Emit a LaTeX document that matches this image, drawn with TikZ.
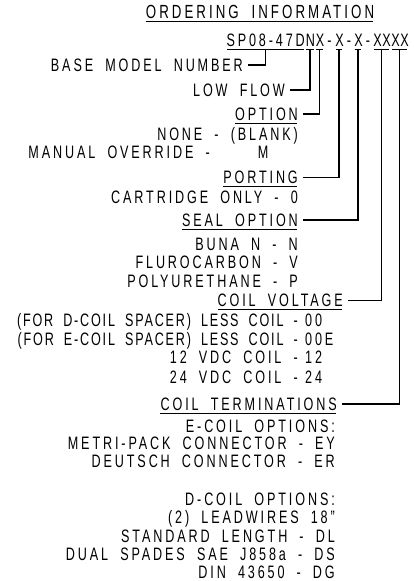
\documentclass[tikz,border=0pt]{standalone}
\usepackage{fontspec}
\setmainfont{Liberation Sans}[FakeStretch=0.7,LetterSpace=16,WordSpace=1.9]
\usetikzlibrary{calc}
\begin{document}
\begin{tikzpicture}[x=1pt,y=-1pt,
  txt/.style={inner sep=0pt,font=\fontsize{18}{20}\selectfont},
  tight/.style={inner sep=0pt,font=\fontsize{18}{20}\selectfont\addfontfeature{LetterSpace=10}},
  lbl/.style={txt,anchor=base east},
  chain/.style={txt,anchor=base west},
  code/.style={txt,anchor=base},
  conn/.style={line width=1.1pt},
  uline/.style={line width=1pt}]
\useasboundingbox (0,0) rectangle (413,581);
% title
\node[txt,anchor=base,font=\fontsize{19}{21}\selectfont] (title) at (260,18) {ORDERING INFORMATION};
\draw[uline] ($(title.base west)+(0,3)$) -- ($(title.base east)+(-1.5,3)$);
% model code
\node[txt,anchor=base east] (cA) at (305,46) {SP08-47D};
\node[code] (cN) at (310.5,46) {N};
\node[code] (cX1) at (320,46) {X};
\node[code] (d1) at (329.5,46) {-};
\node[code] (cX2) at (339.5,46) {X};
\node[code] (d2) at (349,46) {-};
\node[code] (cX3) at (358.5,46) {X};
\node[code] (d3) at (368,46) {-};
\node[code] (cX4a) at (377.5,46) {X};
\node[code] (cX4b) at (386.5,46) {X};
\node[code] (cX5a) at (395.5,46) {X};
\node[code] (cX5b) at (404.5,46) {X};
\foreach \c in {cA,cN,cX1,cX2,cX3}{
  \draw[uline] ($(\c.base west)+(0.5,3.5)$) -- ($(\c.base east)+(-1.5,3.5)$);
}
\draw[uline] ($(cX4a.base west)+(0.5,3.5)$) -- ($(cX4b.base east)+(-1.5,3.5)$);
\draw[uline] ($(cX5a.base west)+(0.5,3.5)$) -- ($(cX5b.base east)+(-1.5,3.5)$);
% labels
\node[lbl] (bm) at (243,71) {BASE MODEL NUMBER};
\node[lbl] (lf) at (285,96) {LOW FLOW};
\node[lbl] (opt) at (298,120) {OPTION};
\node[lbl] (none) at (298,140) {NONE - (BLANK)};
\node[lbl] (man) at (210,158) {MANUAL OVERRIDE -};
\node[code] (manM) at (263,158) {M};
\node[lbl] (port) at (298,183.5) {PORTING};
\node[lbl] (cart) at (298,203) {CARTRIDGE ONLY - 0};
\node[lbl] (seal) at (298,226) {SEAL OPTION};
\node[lbl] (buna) at (298,250) {BUNA N - N};
\node[lbl] (fluro) at (298,268) {FLUROCARBON - V};
\node[lbl] (poly) at (298,287) {POLYURETHANE - P};
\node[lbl] (cv) at (343,306.5) {COIL VOLTAGE};
\node[tight,anchor=base east] (fd) at (298,326) {(FOR D-COIL SPACER) LESS COIL -};
\node[chain] (fdc) at (305,326) {00};
\node[tight,anchor=base east] (fe) at (298,345) {(FOR E-COIL SPACER) LESS COIL -};
\node[chain] (fec) at (305,345) {00E};
\node[lbl] (v12) at (298,363) {12 VDC COIL -};
\node[chain] (v12c) at (305,363) {12};
\node[lbl] (v24) at (298,383) {24 VDC COIL -};
\node[chain] (v24c) at (305,383) {24};
\node[lbl] (ct) at (337,410) {COIL TERMINATIONS};
\node[lbl] (ecoil) at (335,432) {E-COIL OPTIONS:};
\node[lbl] (metri) at (335,449) {METRI-PACK CONNECTOR - EY};
\node[lbl] (deut) at (335,467) {DEUTSCH CONNECTOR - ER};
\node[lbl] (dcoil) at (335,505) {D-COIL OPTIONS:};
\node[lbl] (lead) at (335,523) {(2) LEADWIRES 18"};
\node[lbl] (std) at (335,542) {STANDARD LENGTH - DL};
\node[lbl] (dual) at (335,560) {DUAL SPADES SAE J858a - DS};
\node[lbl] (din) at (335,578) {DIN 43650 - DG};
% heading underlines
\foreach \h in {opt,port,seal,cv,ct}{
  \draw[uline] ($(\h.base west)+(0,3)$) -- ($(\h.base east)+(-1.5,3)$);
}
% connectors
\draw[conn] ($(bm.base east)+(5,-6)$) -| ($(cA.base)+(0,3.5)$);
\draw[conn] ($(lf.base east)+(5,-6)$) -| ($(cN.base)+(-0.5,3.5)$);
\draw[conn] ($(opt.base east)+(5,-6)$) -| ($(cX1.base)+(-0.5,3.5)$);
\draw[conn] ($(port.base east)+(5,-6)$) -| ($(cX2.base)+(-0.5,3.5)$);
\draw[conn] ($(seal.base east)+(5,-6)$) -| ($(cX3.base)+(-0.5,3.5)$);
\draw[conn] ($(cv.base east)+(5,-6)$) -| ($($(cX4a.base)!0.5!(cX4b.base)$)+(-0.5,3.5)$);
\draw[conn] ($(ct.base east)+(5,-6)$) -| ($($(cX5a.base)!0.5!(cX5b.base)$)+(-0.5,3.5)$);
\end{tikzpicture}
\end{document}
